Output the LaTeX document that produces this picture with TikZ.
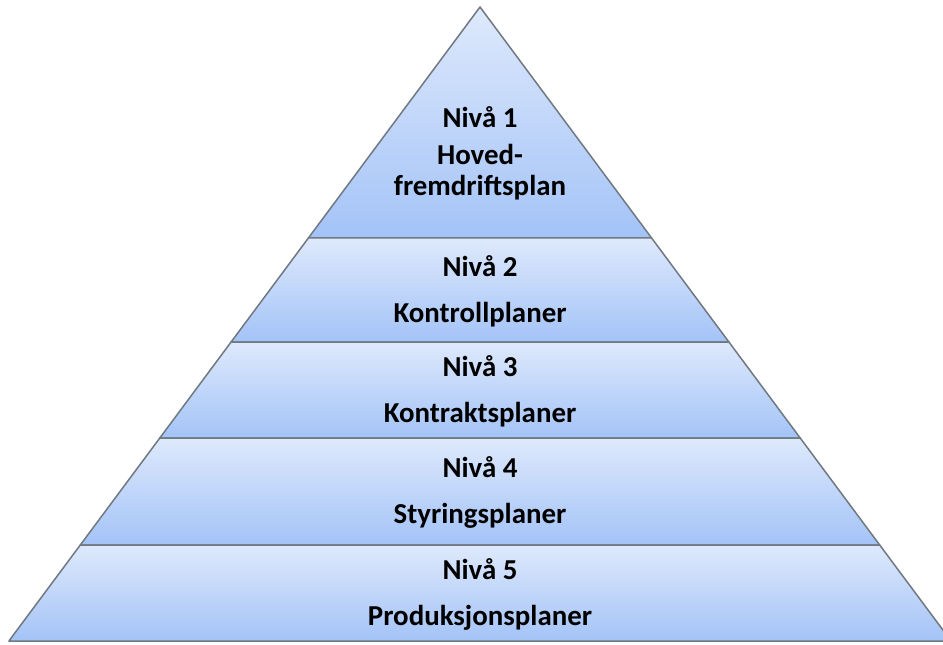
\documentclass[tikz,border=0pt]{standalone}
\usepackage{fontspec}
\setmainfont{Carlito}
\definecolor{bandtop}{RGB}{222,233,252}
\definecolor{bandbot}{RGB}{163,195,247}
\definecolor{edgegray}{RGB}{112,120,130}
\tikzset{
  band/.style={top color=bandtop, bottom color=bandbot, draw=edgegray, line width=1.5bp, line join=round},
  lbl/.style={anchor=base, font=\fontsize{29}{34}\selectfont\bfseries, text=black, inner sep=0pt}
}
\begin{document}
\begin{tikzpicture}[x=1bp,y=-1bp]
\useasboundingbox (0,0) rectangle (943,645);
\fill[white] (0,0) rectangle (943,645);
% corners
\coordinate (apex) at (480,7);
\coordinate (l1) at (308.4,238); \coordinate (r1) at (651.6,238);
\coordinate (l2) at (231.1,342); \coordinate (r2) at (728.9,342);
\coordinate (l3) at (159.8,438); \coordinate (r3) at (800.2,438);
\coordinate (l4) at (80.3,545);  \coordinate (r4) at (879.7,545);
\coordinate (l5) at (8.9,641);   \coordinate (r5) at (951.1,641);
\draw[band] (apex) -- (r1) -- (l1) -- cycle;
\draw[band] (l1) -- (r1) -- (r2) -- (l2) -- cycle;
\draw[band] (l2) -- (r2) -- (r3) -- (l3) -- cycle;
\draw[band] (l3) -- (r3) -- (r4) -- (l4) -- cycle;
\draw[band] (l4) -- (r4) -- (r5) -- (l5) -- cycle;
% labels
\node[lbl] (n1) at (480,128) {Nivå 1};
\node[lbl] (t1a) at (480,165) {Hoved-};
\node[lbl] (t1b) at (480,196) {fremdriftsplan};
\node[lbl] (n2) at (480,277) {Nivå 2};
\node[lbl] (t2) at (480,322) {Kontrollplaner};
\node[lbl] (n3) at (480,376) {Nivå 3};
\node[lbl] (t3) at (480,422) {Kontraktsplaner};
\node[lbl] (n4) at (480,477) {Nivå 4};
\node[lbl] (t4) at (480,523) {Styringsplaner};
\node[lbl] (n5) at (480,579) {Nivå 5};
\node[lbl] (t5) at (480,625) {Produksjonsplaner};
\end{tikzpicture}
\end{document}
